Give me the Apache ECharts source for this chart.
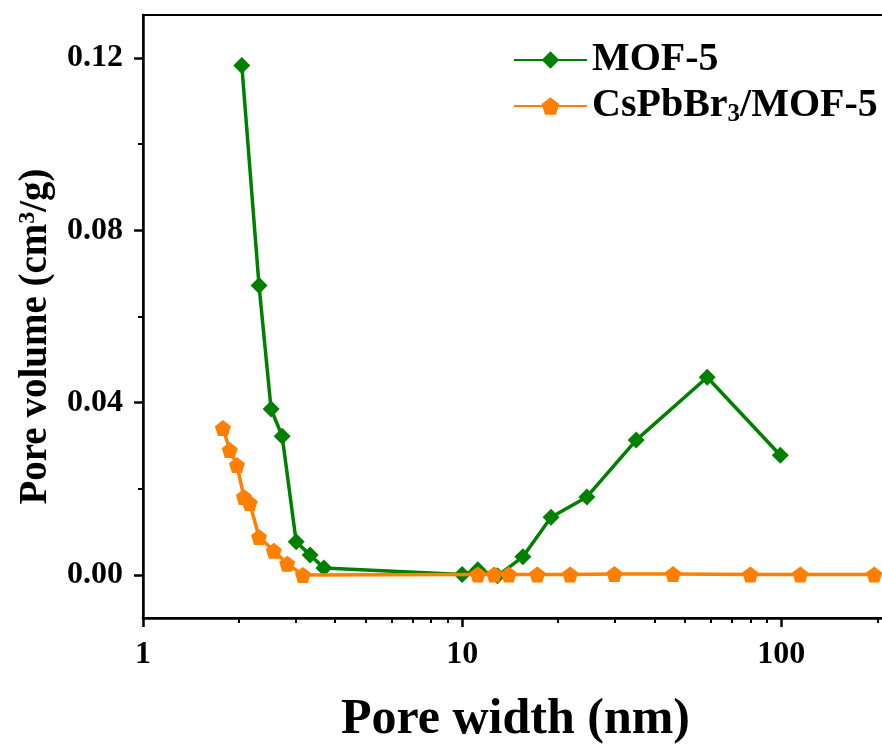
<!DOCTYPE html>
<html>
<head>
<meta charset="utf-8">
<script src="https://cdn.jsdelivr.net/npm/echarts@6/dist/echarts.min.js"></script>
<style>
  html, body { margin: 0; padding: 0; background: #fff; }
  #chart { width: 882px; height: 747px; }
</style>
</head>
<body>
<div id="chart"></div>
<script>
  // pore width (nm) and pore volume (cm3/g)
  const mofX = [2.04, 2.31, 2.52, 2.73, 3.02, 3.34, 3.69, 10.0, 11.2, 12.9, 15.5, 19.0, 24.6, 35.1, 58.6, 99.3];
  const mofY = [0.1183, 0.0672, 0.0385, 0.0322, 0.0077, 0.0046, 0.0016, 0.0001, 0.0012, -0.0002, 0.0042, 0.0134, 0.0181, 0.0313, 0.0459, 0.0278];

  const csX = [1.78, 1.87, 1.97, 2.07, 2.16, 2.31, 2.57, 2.83, 3.17, 11.2, 12.6, 14.0, 17.2, 21.8, 30.0, 45.8, 80.0, 114.7, 195.6];
  const csY = [0.0341, 0.0290, 0.0255, 0.0181, 0.0167, 0.0088, 0.0056, 0.0026, 0.0000, 0.0001, 0.0001, 0.0001, 0.0001, 0.0001, 0.0002, 0.0002, 0.0001, 0.0001, 0.0001];

  const xMajorTicks = [1, 10, 100];
  const xMinorTicks = [2, 3, 4, 5, 6, 7, 8, 9, 20, 30, 40, 50, 60, 70, 80, 90, 200];
  const yMajorTicks = [0, 0.04, 0.08, 0.12];
  const yMinorTicks = [0.02, 0.06, 0.10];

  const pentagon = 'path://M0,-10 L9.51,-3.09 L5.88,8.09 L-5.88,8.09 L-9.51,-3.09 Z';
  const font = '"Liberation Serif", "Times New Roman", serif';

  function pairs(xs, ys) {
    return xs.map((x, i) => [x, ys[i]]);
  }

  const chart = echarts.init(document.getElementById('chart'));

  const xBase = {
    type: 'log',
    logBase: 10,
    min: 1,
    max: 216,
    splitLine: { show: false },
  };
  const yBase = {
    type: 'value',
    min: -0.01,
    max: 0.13,
    splitLine: { show: false },
  };

  const option = {
    backgroundColor: '#fff',
    animation: false,
    grid: {
      left: 143,
      top: 15,
      width: 745,
      bottom: 129,
      outerBoundsMode: 'none',
      show: true,
      borderColor: '#000',
      borderWidth: 2,
      backgroundColor: 'transparent',
    },
    legend: {
      orient: 'vertical',
      left: 508,
      top: 35,
      itemWidth: 73,
      itemHeight: 22,
      itemGap: 6,
      data: ['MOF-5', 'CsPbBr3/MOF-5'],
      formatter(name) {
        return name === 'CsPbBr3/MOF-5' ? 'CsPbBr{sub|3}/MOF-5' : name;
      },
      textStyle: {
        fontFamily: font,
        fontWeight: 'bold',
        fontSize: 40,
        color: '#000',
        padding: [0, 0, 0, 0],
        rich: {
          sub: {
            fontFamily: font,
            fontWeight: 'bold',
            fontSize: 25,
            verticalAlign: 'bottom',
            padding: [18, 0, 0, 0],
          },
        },
      },
    },
    xAxis: [
      {
        ...xBase,
        name: 'Pore width (nm)',
        nameLocation: 'middle',
        nameGap: 77,
        nameTextStyle: { fontFamily: font, fontWeight: 'bold', fontSize: 50, color: '#000' },
        axisLine: { show: true, onZero: false, lineStyle: { color: '#000', width: 2.5 } },
        axisTick: { show: true, length: 9, customValues: xMajorTicks, lineStyle: { color: '#000', width: 2.5 } },
        axisLabel: {
          customValues: xMajorTicks,
          margin: 21,
          fontFamily: font,
          fontWeight: 'bold',
          fontSize: 32,
          color: '#000',
        },
      },
      {
        ...xBase,
        position: 'bottom',
        axisLine: { show: false, onZero: false },
        axisTick: { show: true, length: 5, customValues: xMinorTicks, lineStyle: { color: '#000', width: 2 } },
        axisLabel: { show: false },
      },
    ],
    yAxis: [
      {
        ...yBase,
        name: 'Pore volume (cm{sup|3}/g)',
        nameLocation: 'middle',
        nameGap: 88,
        nameTextStyle: {
          fontFamily: font,
          fontWeight: 'bold',
          fontSize: 39,
          color: '#000',
          padding: [0, 40, 0, 0],
          rich: {
            sup: { fontFamily: font, fontWeight: 'bold', fontSize: 24, verticalAlign: 'top', padding: [0, 0, 14, 0] },
          },
        },
        axisLine: { show: true, onZero: false, lineStyle: { color: '#000', width: 2.5 } },
        axisTick: { show: true, length: 9, customValues: yMajorTicks, lineStyle: { color: '#000', width: 2.5 } },
        axisLabel: {
          customValues: yMajorTicks,
          margin: 20,
          formatter(v) { return v.toFixed(2); },
          fontFamily: font,
          fontWeight: 'bold',
          fontSize: 32,
          color: '#000',
        },
      },
      {
        ...yBase,
        position: 'left',
        axisLine: { show: false, onZero: false },
        axisTick: { show: true, length: 5, customValues: yMinorTicks, lineStyle: { color: '#000', width: 2 } },
        axisLabel: { show: false },
      },
    ],
    series: [
      {
        name: 'MOF-5',
        type: 'line',
        data: pairs(mofX, mofY),
        symbol: 'diamond',
        symbolSize: 17,
        color: '#008000',
        lineStyle: { width: 3.5, color: '#008000' },
        itemStyle: { color: '#008000' },
        z: 3,
      },
      {
        name: 'CsPbBr3/MOF-5',
        type: 'line',
        data: pairs(csX, csY),
        symbol: pentagon,
        symbolSize: 16,
        color: '#FF8000',
        lineStyle: { width: 3.5, color: '#FF8000' },
        itemStyle: { color: '#FF8000' },
        z: 4,
      },
    ],
  };

  chart.setOption(option);
</script>
</body>
</html>
